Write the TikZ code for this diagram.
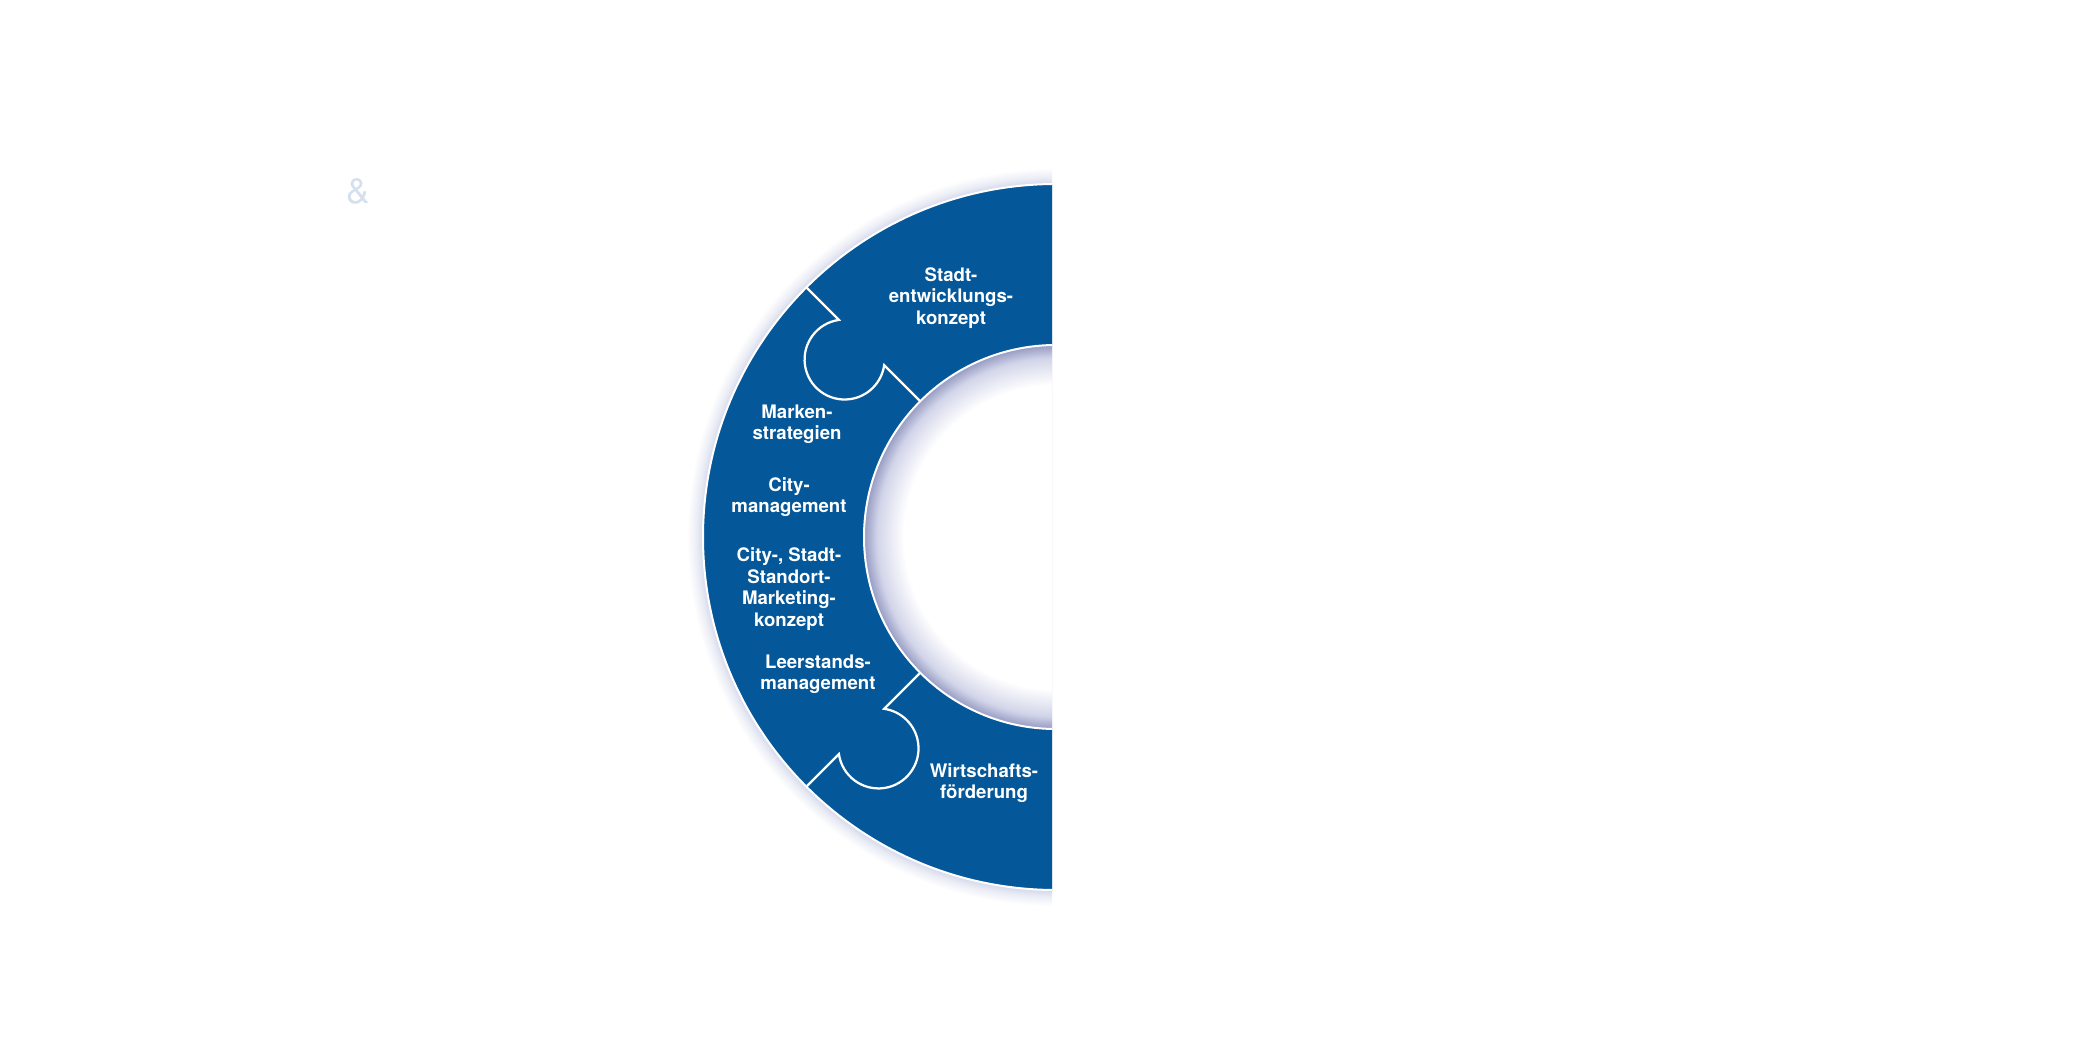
\documentclass[tikz,border=0pt]{standalone}
\usepackage{fontspec}
\setmainfont{TeX Gyre Heros}
\definecolor{ringblue}{RGB}{4,87,153}
\definecolor{shadowcol}{RGB}{150,155,195}
\definecolor{shadowmid}{RGB}{210,213,233}
\definecolor{glowcol}{RGB}{212,215,234}
\definecolor{glowmid}{RGB}{236,238,246}
\definecolor{ghost}{RGB}{212,224,238}
\pgfdeclareradialshading{holeshade}{\pgfpoint{0bp}{0bp}}{color(0bp)=(white); color(19.8bp)=(white); color(23.3bp)=(shadowmid); color(25bp)=(shadowcol); color(50bp)=(shadowcol)}
\pgfdeclareradialshading{outerglow}{\pgfpoint{0bp}{0bp}}{color(0bp)=(glowcol); color(23.9bp)=(glowcol); color(24.4bp)=(glowmid); color(25bp)=(white); color(50bp)=(white)}
\begin{document}
\begin{tikzpicture}[x=0.2mm,y=0.2mm,
  lbl/.style={text=white, font=\fontsize{10.6}{12.2}\selectfont\bfseries, align=center, inner sep=0pt},
  cut/.style={draw=white, line width=0.45mm, line join=miter},
  rim/.style={draw=white, line width=0.4mm}]
\useasboundingbox[fill=white] (0,0) rectangle (2100,1050);
\coordinate (C) at (1056,513);
\begin{scope}
  \clip (0,0) rectangle (1052,1050);
  \shade[shading=outerglow] (C) circle[radius=369];
  \fill[ringblue, even odd rule] (C) circle[radius=353] (C) circle[radius=192];
  \shade[shading=holeshade] (C) circle[radius=192];
  \draw[rim] (C) circle[radius=353];
  \draw[rim] (C) circle[radius=192];
  \begin{scope}[shift={(C)}, rotate=135]
    \draw[cut] (353,0) -- (307,0) arc[start angle=-36.87, end angle=216.87, radius=40] -- (192,0);
  \end{scope}
  \begin{scope}[shift={(C)}, rotate=225]
    \draw[cut] (353,0) -- (307,0) arc[start angle=-36.87, end angle=216.87, radius=40] -- (192,0);
  \end{scope}
\end{scope}
\node[lbl] (stadt) at (951,752) {Stadt-\\entwicklungs-\\konzept};
\node[lbl] (marken) at (797,626) {Marken-\\strategien};
\node[lbl] (citym) at (789,553) {City-\\management};
\node[lbl] (cityk) at (789,461) {City-, Stadt-\\Standort-\\Marketing-\\konzept};
\node[lbl] (leer) at (818,376) {Leerstands-\\management};
\node[lbl] (wirt) at (984,267) {Wirtschafts-\\förderung};
\node[text=ghost, font=\fontsize{20}{24}\selectfont, inner sep=0pt] (amp) at (358,859) {\&};
\end{tikzpicture}
\end{document}
